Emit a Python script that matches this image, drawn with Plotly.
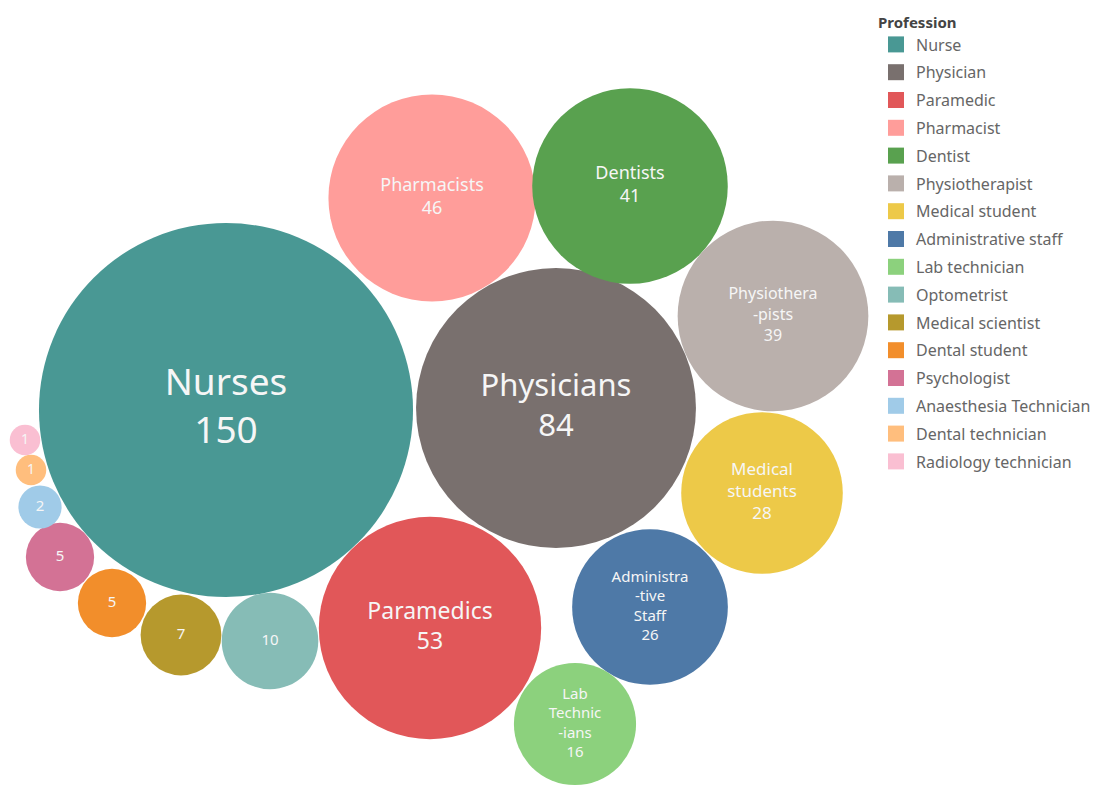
import numpy as np
import plotly.graph_objects as go

# ---- data ----
professions = ["Nurse", "Physician", "Paramedic", "Pharmacist", "Dentist",
               "Physiotherapist", "Medical student", "Administrative staff",
               "Lab technician", "Optometrist", "Medical scientist",
               "Dental student", "Psychologist", "Anaesthesia Technician",
               "Dental technician", "Radiology technician"]
counts = [150, 84, 53, 46, 41, 39, 28, 26, 16, 10, 7, 5, 5, 2, 1, 1]
bubble_labels = ["Nurses<br>150", "Physicians<br>84", "Paramedics<br>53",
                 "Pharmacists<br>46", "Dentists<br>41",
                 "Physiothera<br>-pists<br>39", "Medical<br>students<br>28",
                 "Administra<br>-tive<br>Staff<br>26",
                 "Lab<br>Technic<br>-ians<br>16", "10", "7", "5", "5", "2", "1", "1"]
# bubble centres read from the packed layout (pixel-like units, y downward)
center_x = [226, 556, 430, 432, 630, 773, 762, 650, 575, 270, 181, 112, 60, 40, 31, 25]
center_y = [410, 408, 628, 198, 186, 316, 493, 607, 724, 641, 635, 603, 557, 507, 470, 440]
colors = ["#499894", "#79706e", "#e15759", "#ff9d9a", "#59a14f", "#bab0ac",
          "#edc948", "#4e79a7", "#8cd17d", "#86bcb6", "#b6992d", "#f28e2b",
          "#d37295", "#a0cbe8", "#ffbe7d", "#fabfd2"]
label_sizes = [37, 31, 23, 18, 18, 16, 17, 15, 15, 15, 15, 15, 15, 15, 14, 14]

W, H = 1104, 785
OFF = 8  # page body margin compensation
K = 15.27  # pixels per sqrt(count)
diam = [2 * K * np.sqrt(c) for c in counts]

fig = go.Figure()
fig.add_trace(go.Scatter(
    x=center_x, y=center_y, mode="markers+text",
    marker=dict(size=diam, sizemode="diameter", color=colors, opacity=1,
                line=dict(width=0)),
    text=bubble_labels, textposition="middle center",
    textfont=dict(color="#f6f6f6", size=label_sizes, family="Noto Sans"),
    hoverinfo="skip", showlegend=False, cliponaxis=False,
))

for p, c in zip(professions, colors):
    fig.add_trace(go.Scatter(
        x=[None], y=[None], mode="markers", name=p, legendgroup=p,
        marker=dict(symbol="square", size=18, color=c),
        showlegend=True,
    ))

fig.update_layout(
    width=W, height=H, autosize=False,
    margin=dict(l=0, r=0, t=0, b=0),
    paper_bgcolor="white", plot_bgcolor="white",
    xaxis=dict(range=[OFF, W + OFF], visible=False, fixedrange=True),
    yaxis=dict(range=[H + OFF, OFF], visible=False, fixedrange=True),
    legend=dict(
        x=868 / W, y=1, xanchor="left", yanchor="top",
        title=dict(text="<b>Profession</b>", font=dict(size=15, color="#444444", family="Noto Sans")),
        font=dict(size=16, color="#666666", family="Noto Sans"),
        tracegroupgap=4, itemsizing="trace", bgcolor="rgba(0,0,0,0)",
    ),
    font=dict(family="Noto Sans"),
)

fig.write_html("out.html")
